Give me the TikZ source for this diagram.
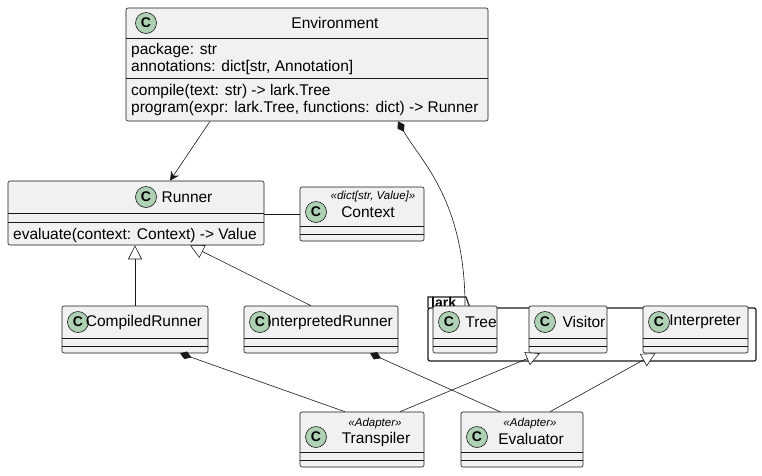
\documentclass[tikz,border=0pt]{standalone}
\usepackage{fontspec}
\setmainfont{Liberation Sans}
\usetikzlibrary{arrows.meta}
\definecolor{umlfill}{HTML}{F1F1F1}
\definecolor{umlline}{HTML}{181818}
\definecolor{spotfill}{HTML}{ADD1B2}
\tikzstyle{cls} = [draw=umlline,fill=umlfill,rectangle,rounded corners=2pt,line width=0.6pt,inner sep=0pt]
\tikzstyle{spot} = [draw=umlline,fill=spotfill,circle,minimum size=21pt,inner sep=0pt,font=\fontsize{14}{14}\selectfont\bfseries,line width=0.6pt]
\tikzstyle{title} = [inner sep=0pt,font=\fontsize{15.5}{17}\selectfont]
\tikzstyle{member} = [anchor=west,inner sep=0pt,font=\fontsize{15.5}{17}\selectfont]
\tikzstyle{stereo} = [inner sep=0pt,font=\fontsize{11.5}{12}\selectfont\itshape]
\tikzstyle{sep} = [draw=umlline,line width=0.5pt]
\tikzstyle{link} = [draw=umlline,line width=0.6pt]
\tikzstyle{inherit} = [link,-{Triangle[open,length=14pt,width=14pt,fill=white]}]
\tikzstyle{compose} = [link,{Diamond[length=12pt,width=8pt]}-]

\begin{document}
\begin{tikzpicture}[x=1pt,y=-1pt]
	\useasboundingbox (0,0) rectangle (762,475);
	% Environment
	\node (env) [cls,minimum width=362pt,minimum height=113pt] at (307,64.5) {};
	\node (envc) [spot] at (146,23) {C};
	\node (envt) [title] at (335,23) {Environment};
	\draw [sep] (126,38) -- (488,38);
	\node [member] at (131,50) {package: str};
	\node [member] at (131,67) {annotations: dict[str, Annotation]};
	\draw [sep] (126,78) -- (488,78);
	\node [member] at (131,91) {compile(text: str) -> lark.Tree};
	\node [member] at (131,108) {program(expr: lark.Tree, functions: dict) -> Runner};
	% Runner
	\node (run) [cls,minimum width=256pt,minimum height=64pt] at (136,213) {};
	\node [spot] at (146,197) {C};
	\node [title] at (187,197) {Runner};
	\draw [sep] (8,213) -- (264,213);
	\draw [sep] (8,222) -- (264,222);
	\node [member] at (13,235) {evaluate(context: Context) -> Value};
	% Context
	\node (ctx) [cls,minimum width=124pt,minimum height=54pt] at (362,214) {};
	\node [spot] at (316,212) {C};
	\node [stereo] at (373,197) {«dict[str, Value]»};
	\node [title] at (368,212) {Context};
	\draw [sep] (300,226) -- (424,226);
	\draw [sep] (300,234) -- (424,234);
	% CompiledRunner
	\node (cr) [cls,minimum width=146pt,minimum height=47pt] at (135,329.5) {};
	\node [spot] at (78,322) {C};
	\node [title] at (144,322) {CompiledRunner};
	\draw [sep] (62,338) -- (208,338);
	\draw [sep] (62,346) -- (208,346);
	% InterpretedRunner
	\node (ir) [cls,minimum width=154pt,minimum height=47pt] at (321,329.5) {};
	\node [spot] at (260,322) {C};
	\node [title] at (330,322) {InterpretedRunner};
	\draw [sep] (244,338) -- (398,338);
	\draw [sep] (244,346) -- (398,346);
	% lark package
	\draw [umlline,line width=1.2pt] (428,308) -- (428,297) -- (466,297) -- (470,308);
	\node (lark) [draw=umlline,line width=1.2pt,rectangle,rounded corners=2pt,minimum width=328pt,minimum height=53pt,inner sep=0pt] at (592,334.5) {};
	\node [inner sep=0pt,anchor=west,font=\fontsize{14}{15}\selectfont\bfseries] at (431,302) {lark};
	% Tree
	\node (tree) [cls,minimum width=64pt,minimum height=47pt] at (465,329.5) {};
	\node [spot] at (449,322) {C};
	\node [title] at (481,322) {Tree};
	\draw [sep] (433,338) -- (497,338);
	\draw [sep] (433,346) -- (497,346);
	% Visitor
	\node (vis) [cls,minimum width=78pt,minimum height=47pt] at (568,329.5) {};
	\node [spot] at (545,322) {C};
	\node [title] at (584,322) {Visitor};
	\draw [sep] (529,338) -- (607,338);
	\draw [sep] (529,346) -- (607,346);
	% Interpreter
	\node (int) [cls,minimum width=105pt,minimum height=47pt] at (695.5,329.5) {};
	\node [spot] at (659,322) {C};
	\node [title] at (705,322) {Interpreter};
	\draw [sep] (643,338) -- (748,338);
	\draw [sep] (643,346) -- (748,346);
	% Transpiler
	\node (tr) [cls,minimum width=124pt,minimum height=55pt] at (362,439.5) {};
	\node [spot] at (316,437) {C};
	\node [stereo] at (375,424) {«Adapter»};
	\node [title] at (376,439) {Transpiler};
	\draw [sep] (300,452) -- (424,452);
	\draw [sep] (300,460) -- (424,460);
	% Evaluator
	\node (ev) [cls,minimum width=122pt,minimum height=55pt] at (522,439.5) {};
	\node [spot] at (477,437) {C};
	\node [stereo] at (530,424) {«Adapter»};
	\node [title] at (531,439) {Evaluator};
	\draw [sep] (461,452) -- (583,452);
	\draw [sep] (461,460) -- (583,460);
	% connectors
	\draw [link,-{Stealth[length=9pt,width=9pt,inset=3pt]}] ([xshift=-97pt]env.south) -- ([xshift=34pt]run.north);
	\draw [compose] ([xshift=91pt]env.south) .. controls (420,160) and (465,200) .. (tree.north);
	\draw [link] ([yshift=-1pt]run.east) -- (ctx.west);
	\draw [inherit] (cr.north) -- (cr.north |- run.south);
	\draw [inherit] ([xshift=-10pt]ir.north) -- ([xshift=54pt]run.south);
	\draw [compose] ([xshift=45pt]cr.south) -- ([xshift=-17pt]tr.north);
	\draw [compose] ([xshift=49pt]ir.south) -- ([xshift=-22pt]ev.north);
	\draw [inherit] ([xshift=38pt]tr.north) -- ([xshift=-28pt]vis.south);
	\draw [inherit] ([xshift=28pt]ev.north) -- ([xshift=-40pt]int.south);
\end{tikzpicture}
\end{document}
